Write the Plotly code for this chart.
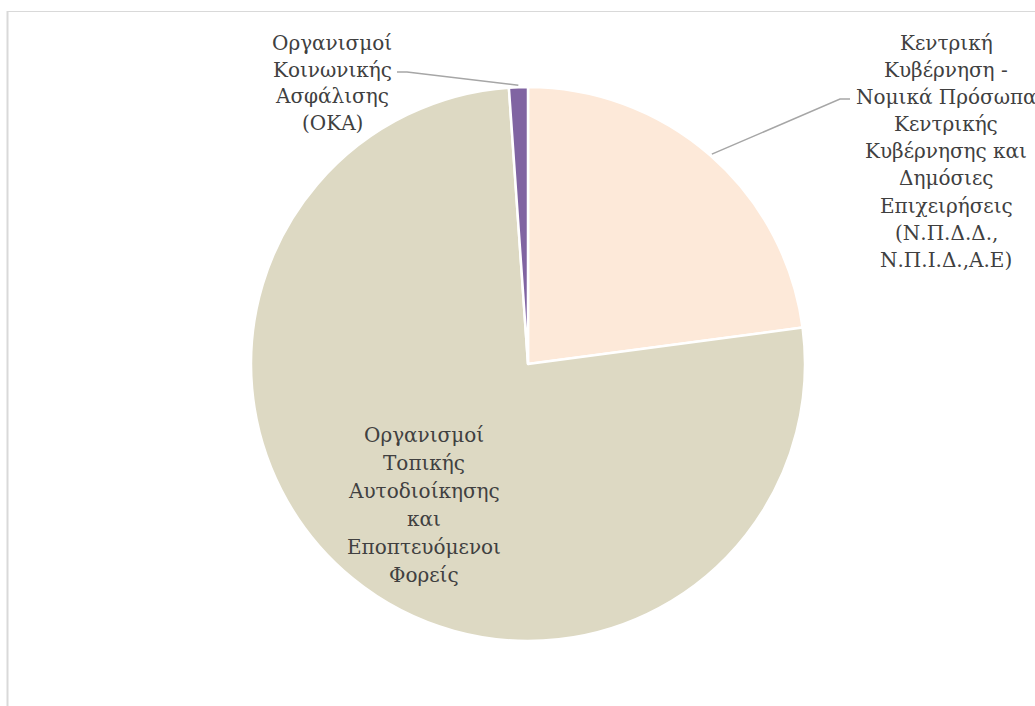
import math
import plotly.graph_objects as go

W, H = 1035, 706

labels = [
    "Κεντρική Κυβέρνηση - Νομικά Πρόσωπα Κεντρικής Κυβέρνησης και Δημόσιες Επιχειρήσεις (Ν.Π.Δ.Δ., Ν.Π.Ι.Δ.,Α.Ε)",
    "Οργανισμοί Τοπικής Αυτοδιοίκησης και Εποπτευόμενοι Φορείς",
    "Οργανισμοί Κοινωνικής Ασφάλισης (ΟΚΑ)",
]
values = [22.9, 76.0, 1.1]
colors = ["#FDE9D9", "#DDD9C3", "#8064A2"]
label_lines = [
    ["Κεντρική", "Κυβέρνηση -", "Νομικά Πρόσωπα", "Κεντρικής", "Κυβέρνησης και",
     "Δημόσιες", "Επιχειρήσεις", "(Ν.Π.Δ.Δ.,", "Ν.Π.Ι.Δ.,Α.Ε)"],
    ["Οργανισμοί", "Τοπικής", "Αυτοδιοίκησης", "και", "Εποπτευόμενοι", "Φορείς"],
    ["Οργανισμοί", "Κοινωνικής", "Ασφάλισης", "(ΟΚΑ)"],
]

# layout (pixels)
CX, CY, R = 528, 364, 277
FONT = "DejaVu Serif"
FS = 20
TXT = "#404040"

def px(x):
    return x / W

def py(y):
    return 1 - y / H

fig = go.Figure(go.Pie(
    labels=labels, values=values, sort=False, direction="clockwise", rotation=0,
    marker=dict(colors=colors, line=dict(color="white", width=2.5)),
    textinfo="none", hoverinfo="label+percent", showlegend=False,
    domain=dict(x=[px(CX - R), px(CX + R)], y=[py(CY + R), py(CY - R)]),
))

# label placement: (center x, first line y, line spacing)
label_pos = [(946, 43, 27.1), (424, 435, 28), (332, 43, 26.7)]
annotations = []
for lines, (lx, ly, sp) in zip(label_lines, label_pos):
    for i, t in enumerate(lines):
        annotations.append(dict(
            x=px(lx), y=py(ly + i * sp), xref="paper", yref="paper",
            text=t, showarrow=False, xanchor="center", yanchor="middle",
            font=dict(family=FONT, size=FS, color=TXT)))

# leader lines from slice mid-angles
total = sum(values)
cum = 0
mids = []
for v in values:
    mids.append((cum + v / 2) / total * 2 * math.pi)
    cum += v

def edge(theta, r):
    return CX + r * math.sin(theta), CY - r * math.cos(theta)

shapes = []
leaders = {0: [(840, 99), (850, 99)], 2: [(407, 72), (397, 72)]}
for idx, pts in leaders.items():
    x0, y0 = edge(mids[idx], R + 2)
    path_pts = [(x0, y0)] + pts
    d = "M " + " L ".join(f"{px(a)},{py(b)}" for a, b in path_pts)
    shapes.append(dict(type="path", xref="paper", yref="paper", path=d,
                       line=dict(color="#A6A6A6", width=1.5)))

# chart frame (partially visible)
shapes.append(dict(type="line", xref="paper", yref="paper",
                   x0=px(7.5), x1=px(7.5), y0=py(11), y1=py(H + 5),
                   line=dict(color="#D9D9D9", width=2)))
shapes.append(dict(type="line", xref="paper", yref="paper",
                   x0=px(7), x1=px(W + 5), y0=py(11.5), y1=py(11.5),
                   line=dict(color="#D9D9D9", width=1)))

fig.update_layout(
    width=W, height=H, margin=dict(l=0, r=0, t=0, b=0),
    paper_bgcolor="white", plot_bgcolor="white",
    annotations=annotations, shapes=shapes,
)

fig.write_html("out.html")
